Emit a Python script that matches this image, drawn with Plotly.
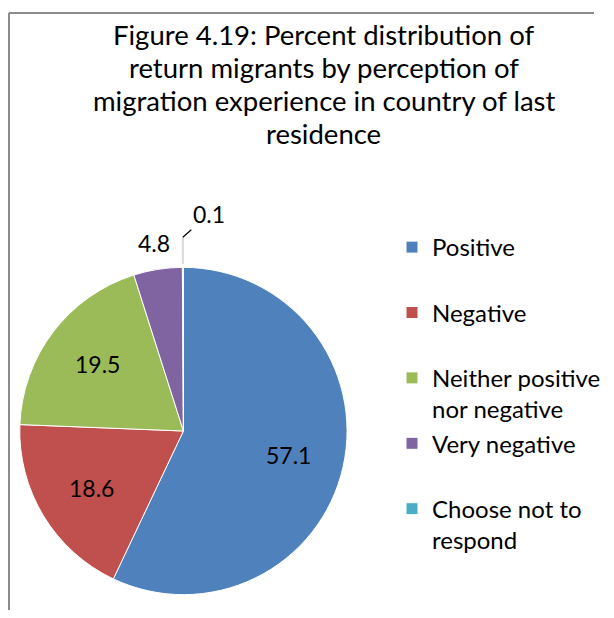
import math
import plotly.graph_objects as go

categories = ["Positive", "Negative", "Neither positive<br>nor negative", "Very negative", "Choose not to<br>respond"]
values = [57.1, 18.6, 19.5, 4.8, 0.1]
colors = ["#4F81BD", "#C0504D", "#9BBB59", "#8064A2", "#4BACC6"]
label_radius = [0.66, 0.66, 0.66, 1.14, 1.16]  # label distance as a fraction of the radius
title_lines = ["Figure 4.19: Percent distribution of",
               "return migrants by perception of",
               "migration experience in country of last",
               "residence"]

PAGE_OFF = 8                      # default body margin of the html page
W, H = 614 - 2 * PAGE_OFF, 618 - 2 * PAGE_OFF   # figure fits the window exactly
FONT = "Lato"
CX, CY, R = 187, 431, 167         # pie centre/radius in window pixels (layout)


def fx(sx):
    return (sx - PAGE_OFF) / W


def fy(sy):
    return 1 - (sy - PAGE_OFF) / H


legend_labels = [c if "<br>" in c else c + "<br>&nbsp;" for c in categories]

fig = go.Figure(go.Pie(
    labels=legend_labels,
    values=values,
    sort=False,
    direction="clockwise",
    rotation=0,
    marker=dict(colors=colors, line=dict(color="white", width=1)),
    textinfo="none",
    hoverinfo="label+value",
    domain=dict(x=[fx(CX - R), fx(CX + R)], y=[fy(CY + R), fy(CY - R)]),
    showlegend=True,
))

# data labels placed at each slice's mid-angle
total = sum(values)
annotations = []
shapes = []
cum = 0.0
for i, v in enumerate(values):
    mid = (cum + v / 2) / total * 2 * math.pi
    cum += v
    dx, dy = math.sin(mid), -math.cos(mid)
    px, py = CX + dx * R * label_radius[i], CY + dy * R * label_radius[i]
    txt = f"{v:.1f}"
    if i == len(values) - 1:
        # tiny slice: leader line + offset label
        shapes.append(dict(type="line", xref="paper", yref="paper",
                           x0=fx(CX + dx * R), y0=fy(CY + dy * R),
                           x1=fx(px), y1=fy(py),
                           line=dict(color="#D9D9D9", width=2)))
        annotations.append(dict(text=txt, x=fx(px), y=fy(py), xref="paper", yref="paper",
                                showarrow=True, arrowhead=0, arrowwidth=1.2, arrowcolor="black",
                                ax=26, ay=-23, font=dict(family=FONT, size=23, color="black")))
    else:
        annotations.append(dict(text=txt, x=fx(px), y=fy(py), xref="paper", yref="paper",
                                xanchor="center", yanchor="middle", showarrow=False,
                                font=dict(family=FONT, size=23, color="black")))

for k, line in enumerate(title_lines):
    annotations.append(dict(
        text=line, x=fx(330), y=fy(16 + 33 * k), xref="paper", yref="paper",
        xanchor="center", yanchor="top", showarrow=False,
        font=dict(family=FONT, size=27.5, color="black"),
    ))

shapes += [
    dict(type="line", xref="paper", yref="paper", x0=fx(9), x1=fx(9), y0=0, y1=fy(13),
         line=dict(color="#8C8C8C", width=2)),
    dict(type="line", xref="paper", yref="paper", x0=fx(9), x1=1, y0=fy(13), y1=fy(13),
         line=dict(color="#8C8C8C", width=2)),
]

fig.update_layout(
    width=W, height=H,
    margin=dict(l=0, r=0, t=0, b=0),
    paper_bgcolor="white",
    font=dict(family=FONT, color="black"),
    legend=dict(
        x=fx(400), y=fy(225), xanchor="left", yanchor="top",
        font=dict(family=FONT, size=24, color="black"),
        valign="top", traceorder="normal",
        bgcolor="rgba(0,0,0,0)",
    ),
    annotations=annotations,
    shapes=shapes,
)

fig.write_html("out.html", config=dict(displayModeBar=False))
